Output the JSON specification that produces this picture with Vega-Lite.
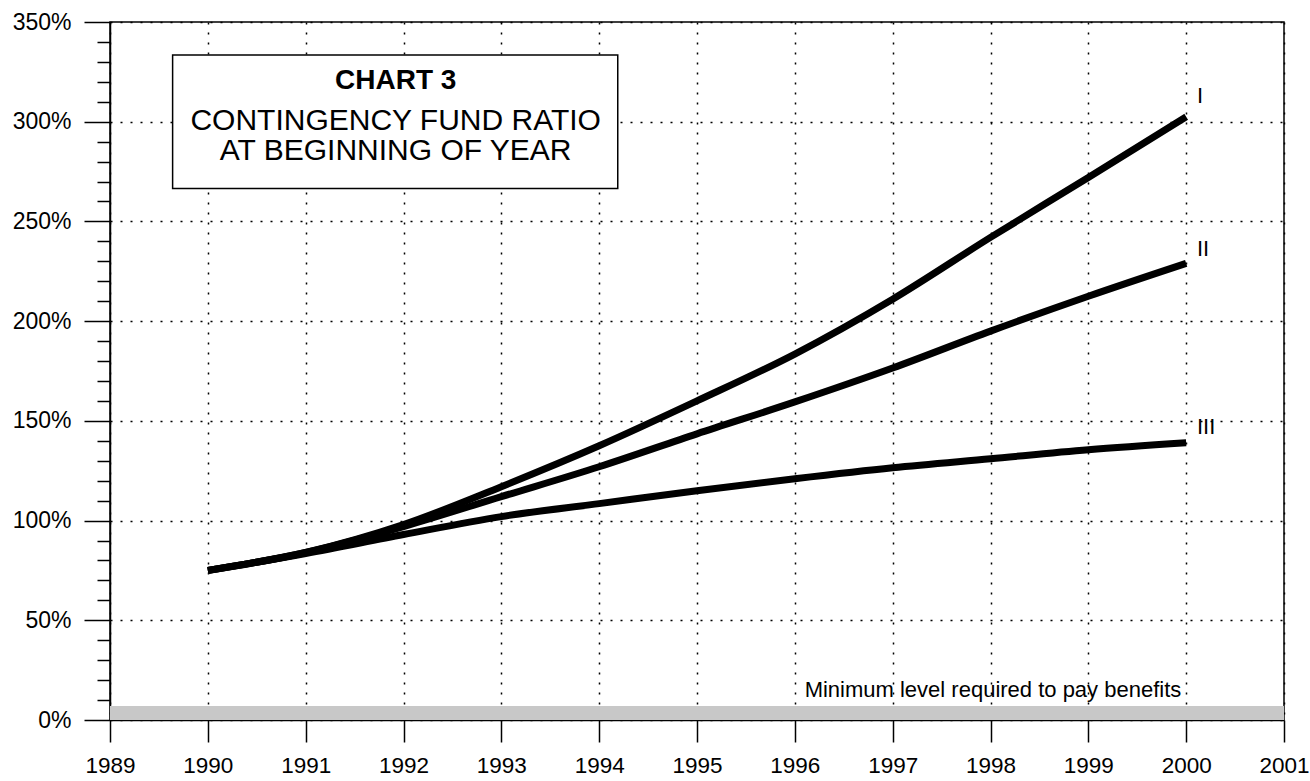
{
  "$schema": "https://vega.github.io/schema/vega-lite/v6.json",
  "width": 1174,
  "height": 698,
  "autosize": {"type": "none"},
  "padding": {"left": 110, "top": 22, "right": 26, "bottom": 61},
  "background": "white",
  "config": {
    "view": {"stroke": "black", "strokeWidth": 1.5},
    "font": "Liberation Sans"
  },
  "datasets": {
    "series": [
      {"year": 1990, "value": 75, "scenario": "I"},
      {"year": 1991, "value": 84, "scenario": "I"},
      {"year": 1992, "value": 98, "scenario": "I"},
      {"year": 1993, "value": 117, "scenario": "I"},
      {"year": 1994, "value": 137.5, "scenario": "I"},
      {"year": 1995, "value": 160, "scenario": "I"},
      {"year": 1996, "value": 183.5, "scenario": "I"},
      {"year": 1997, "value": 211, "scenario": "I"},
      {"year": 1998, "value": 242, "scenario": "I"},
      {"year": 1999, "value": 272, "scenario": "I"},
      {"year": 2000, "value": 302.5, "scenario": "I"},
      {"year": 1990, "value": 75, "scenario": "II"},
      {"year": 1991, "value": 84, "scenario": "II"},
      {"year": 1992, "value": 97, "scenario": "II"},
      {"year": 1993, "value": 112, "scenario": "II"},
      {"year": 1994, "value": 127, "scenario": "II"},
      {"year": 1995, "value": 143.5, "scenario": "II"},
      {"year": 1996, "value": 159.5, "scenario": "II"},
      {"year": 1997, "value": 176.5, "scenario": "II"},
      {"year": 1998, "value": 195, "scenario": "II"},
      {"year": 1999, "value": 212.5, "scenario": "II"},
      {"year": 2000, "value": 229, "scenario": "II"},
      {"year": 1990, "value": 75, "scenario": "III"},
      {"year": 1991, "value": 83.5, "scenario": "III"},
      {"year": 1992, "value": 93, "scenario": "III"},
      {"year": 1993, "value": 102, "scenario": "III"},
      {"year": 1994, "value": 108.5, "scenario": "III"},
      {"year": 1995, "value": 115, "scenario": "III"},
      {"year": 1996, "value": 121, "scenario": "III"},
      {"year": 1997, "value": 126.5, "scenario": "III"},
      {"year": 1998, "value": 131, "scenario": "III"},
      {"year": 1999, "value": 135.5, "scenario": "III"},
      {"year": 2000, "value": 139, "scenario": "III"}
    ],
    "endLabels": [
      {"year": 2000.11, "value": 313, "label": "I"},
      {"year": 2000.11, "value": 236, "label": "II"},
      {"year": 2000.11, "value": 147, "label": "III"}
    ],
    "band": [
      {"year": 1989, "year2": 2001, "value": 0, "value2": 7}
    ],
    "note": [
      {"year": 1999.95, "value": 11.5, "label": "Minimum level required to pay benefits"}
    ],
    "titleBox": [
      {"year": 1989.64, "year2": 1994.19, "value": 266.5, "value2": 333.5}
    ],
    "titleBold": [
      {"year": 1991.92, "value": 320.5, "label": "CHART 3"}
    ],
    "titleLines": [
      {"year": 1991.92, "value": 300.5, "label": "CONTINGENCY FUND RATIO"},
      {"year": 1991.92, "value": 285.5, "label": "AT BEGINNING OF YEAR"}
    ]
  },
  "encoding": {
    "x": {
      "field": "year",
      "type": "quantitative",
      "scale": {"domain": [1989, 2001], "nice": false, "zero": false},
      "axis": {
        "values": [1989, 1990, 1991, 1992, 1993, 1994, 1995, 1996, 1997, 1998, 1999, 2000, 2001],
        "format": "d",
        "title": null,
        "grid": true,
        "gridColor": "black",
        "gridDash": [2, 8],
        "gridWidth": 1.5,
        "gridOpacity": 1,
        "domain": true,
        "domainColor": "black",
        "domainWidth": 1.5,
        "ticks": true,
        "tickColor": "black",
        "tickWidth": 1.5,
        "tickSize": 22,
        "labelFont": "Liberation Sans",
        "labelFontSize": 22.5,
        "labelColor": "black",
        "labelPadding": 12,
        "labelFlush": false,
        "labelOverlap": false
      }
    },
    "y": {
      "field": "value",
      "type": "quantitative",
      "scale": {"domain": [0, 350], "nice": false, "zero": true},
      "axis": {
        "values": [0, 10, 20, 30, 40, 50, 60, 70, 80, 90, 100, 110, 120, 130, 140, 150, 160, 170, 180, 190, 200, 210, 220, 230, 240, 250, 260, 270, 280, 290, 300, 310, 320, 330, 340, 350],
        "labelExpr": "datum.value % 50 === 0 ? datum.value + '%' : ''",
        "title": null,
        "grid": true,
        "gridColor": "black",
        "gridDash": [2, 8],
        "gridWidth": 1.5,
        "gridOpacity": {"condition": {"test": "datum.value % 50 === 0", "value": 1}, "value": 0},
        "domain": true,
        "domainColor": "black",
        "domainWidth": 1.5,
        "ticks": true,
        "tickColor": "black",
        "tickWidth": 1.5,
        "tickSize": {"condition": {"test": "datum.value % 50 === 0", "value": 26}, "value": 13},
        "labelFont": "Liberation Sans",
        "labelFontSize": 23,
        "labelColor": "black",
        "labelPadding": 13,
        "labelFlush": false,
        "labelOverlap": false
      }
    }
  },
  "layer": [
    {
      "data": {"name": "band"},
      "mark": {"type": "rect", "fill": "#c8c8c8"},
      "encoding": {
        "x2": {"field": "year2"},
        "y2": {"field": "value2"}
      }
    },
    {
      "data": {"name": "series"},
      "mark": {"type": "line", "color": "black", "strokeWidth": 7, "strokeCap": "butt", "strokeJoin": "round", "interpolate": "monotone"},
      "encoding": {
        "detail": {"field": "scenario", "type": "nominal"}
      }
    },
    {
      "data": {"name": "endLabels"},
      "mark": {"type": "text", "align": "left", "baseline": "middle", "font": "Liberation Sans", "fontSize": 22, "color": "black"},
      "encoding": {
        "text": {"field": "label"}
      }
    },
    {
      "data": {"name": "note"},
      "mark": {"type": "text", "align": "right", "baseline": "alphabetic", "font": "Liberation Sans", "fontSize": 22, "color": "black"},
      "encoding": {
        "text": {"field": "label"}
      }
    },
    {
      "data": {"name": "titleBox"},
      "mark": {"type": "rect", "fill": "white", "stroke": "black", "strokeWidth": 1.5},
      "encoding": {
        "x2": {"field": "year2"},
        "y2": {"field": "value2"}
      }
    },
    {
      "data": {"name": "titleBold"},
      "mark": {"type": "text", "align": "center", "baseline": "middle", "font": "Liberation Sans", "fontSize": 28, "fontWeight": "bold", "color": "black"},
      "encoding": {
        "text": {"field": "label"}
      }
    },
    {
      "data": {"name": "titleLines"},
      "mark": {"type": "text", "align": "center", "baseline": "middle", "font": "Liberation Sans", "fontSize": 30, "color": "black"},
      "encoding": {
        "text": {"field": "label"}
      }
    }
  ]
}
